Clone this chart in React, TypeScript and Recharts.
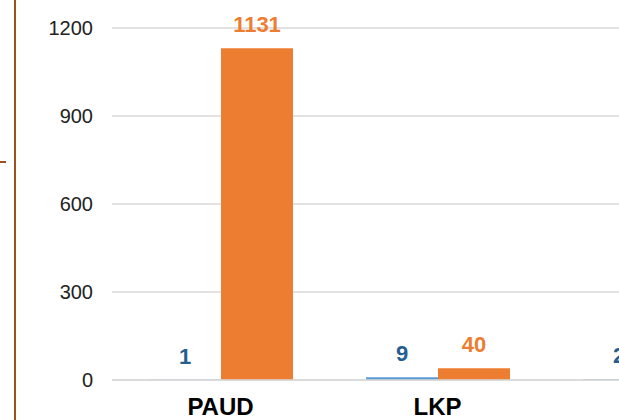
import { Bar, BarChart, CartesianGrid, LabelList, XAxis, YAxis } from 'recharts'

const categories = ['PAUD', 'LKP', 'SKB']
const lembagaValues = [1, 9, 2]
const pesertaValues = [1131, 40, 30]
const yTicks = [0, 300, 600, 900, 1200]

const data = categories.map((name, i) => ({
  name,
  lembaga: lembagaValues[i],
  peserta: pesertaValues[i],
}))

export default function App() {
  return (
    <div
      style={{
        position: 'absolute',
        top: 0,
        left: 0,
        width: 619,
        height: 420,
        overflow: 'hidden',
        background: '#fff',
        fontFamily: '"Liberation Sans", Arial, sans-serif',
      }}
    >
      <div
        style={{
          position: 'absolute',
          left: 14,
          top: 0,
          width: 2,
          height: 420,
          background: '#9c4f1f',
        }}
      />
      <div
        style={{
          position: 'absolute',
          left: 0,
          top: 161,
          width: 6,
          height: 2,
          background: '#9c4f1f',
        }}
      />
      <div style={{ position: 'absolute', left: 0, top: 0 }}>
        <BarChart
          width={763}
          height={420}
          data={data}
          margin={{ top: 28, right: 0, bottom: 0, left: 0 }}
          barGap={0}
          barSize={72}
        >
          <CartesianGrid vertical={false} stroke='#d9d9d9' strokeWidth={1.5} />
          <XAxis
            dataKey='name'
            height={40}
            axisLine={{ stroke: '#d9d9d9', strokeWidth: 1.5 }}
            tickLine={false}
            tickMargin={12}
            tick={{ fill: '#000', fontSize: 24, fontWeight: 700 }}
            interval={0}
          />
          <YAxis
            width={112}
            domain={[0, 1200]}
            ticks={yTicks}
            axisLine={false}
            tickLine={false}
            tickMargin={13}
            tick={{ fill: '#222', fontSize: 20 }}
          />
          <Bar dataKey='lembaga' fill='#5b9bd5' isAnimationActive={false}>
            <LabelList
              dataKey='lembaga'
              position='top'
              offset={16}
              fill='#255e91'
              fontSize={22}
              fontWeight={700}
            />
          </Bar>
          <Bar dataKey='peserta' fill='#ed7d31' isAnimationActive={false}>
            <LabelList
              dataKey='peserta'
              position='top'
              offset={16}
              fill='#ed7d31'
              fontSize={22}
              fontWeight={700}
            />
          </Bar>
        </BarChart>
      </div>
    </div>
  )
}
